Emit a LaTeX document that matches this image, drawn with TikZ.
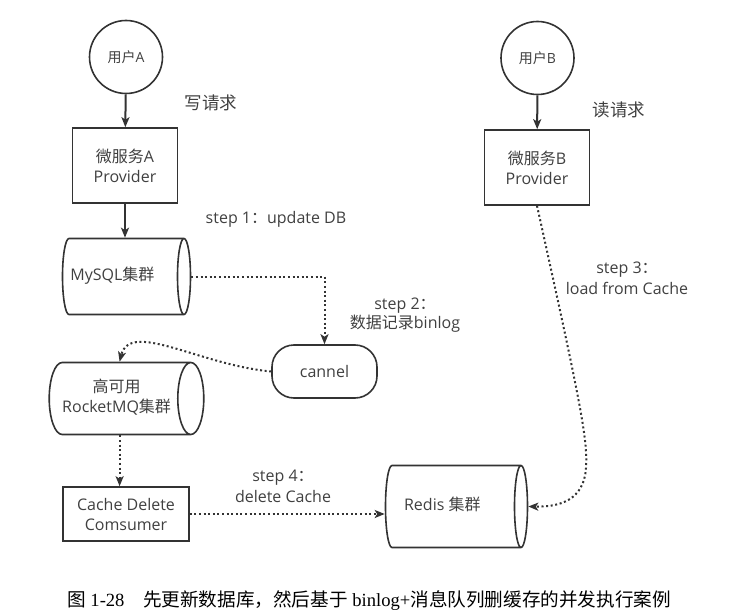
\documentclass[tikz,border=0pt]{standalone}
\usepackage{fontspec}
\setmainfont{Open Sans}
\newfontfamily\cjkfont{Noto Sans CJK SC}
\newfontfamily\capfont{Liberation Serif}
\newcommand{\zh}[1]{{\cjkfont #1}}
\newcommand{\dbtext}[2][21pt]{\begin{tabular}{@{}c@{}}#2\end{tabular}\hspace*{#1}}
\usetikzlibrary{shapes.geometric,arrows.meta}
\definecolor{linegray}{RGB}{51,51,51}
\definecolor{textgray}{RGB}{64,64,64}

\begin{document}
\begin{tikzpicture}[x=1pt,y=1pt,
	every node/.style={text=textgray, font=\fontsize{16}{20}\selectfont},
	user/.style={circle, draw=linegray, line width=1.6pt, minimum size=73pt, inner sep=0pt, font=\fontsize{14}{17}\selectfont},
	service/.style={rectangle, draw=linegray, line width=1.6pt, minimum width=105pt, minimum height=75pt, align=center},
	store/.style={cylinder, draw=linegray, line width=1.6pt, aspect=0.65, inner sep=0pt, anchor=shape center},
	steplabel/.style={align=center, font=\fontsize{16}{21}\selectfont},
	solidarrow/.style={draw=linegray, line width=2pt, -{Stealth[length=10pt,width=8pt,inset=2.5pt]}},
	dotarrow/.style={draw=linegray, line width=2pt, dash pattern=on 2pt off 2.6pt, -{Stealth[length=10pt,width=8pt,inset=2.5pt]}}]
	\useasboundingbox (0,0) rectangle (750,-615);
	\node[user] (userA) at (126,-57) {\zh{用户}A};
	\node[user] (userB) at (537.5,-58) {\zh{用户}B};
	\node[service] (provA) at (125,-165.5) {\zh{微服务}A\\Provider};
	\node[service] (provB) at (537,-167.5) {\zh{微服务}B\\Provider};
	\node[store, minimum height=128pt, minimum width=76pt] (mysql) at (126.5,-276.5) {\dbtext{MySQL\zh{集群}}};
	\node[draw=linegray, line width=1.6pt, rounded corners=22pt, minimum width=105pt, minimum height=53pt] (cannel) at (324.5,-371.5) {cannel};
	\node[store, minimum height=152pt, minimum width=72pt] (rocketmq) at (126.5,-398.5) {\dbtext[6pt]{\zh{高可用}\\RocketMQ\zh{集群}}};
	\node[service, minimum width=126pt, minimum height=54pt] (consumer) at (126,-514) {Cache Delete\\Comsumer};
	\node[store, minimum height=142pt, minimum width=82pt] (redis) at (456.5,-506.5) {\dbtext{Redis \zh{集群}}};
	\node[font=\fontsize{17.5}{20}\selectfont] (writeA) at (211,-103) {\zh{写请求}};
	\node[font=\fontsize{17.5}{20}\selectfont] (readB) at (619,-110) {\zh{读请求}};
	\node (step1) at (276,-219) {step 1\zh{：}update DB};
	\node[steplabel, font=\fontsize{16}{19}\selectfont] (step2) at (405,-315.5) {step 2\zh{：}\\\zh{数据记录}binlog};
	\node[steplabel] (step3) at (627,-278.5) {step 3\zh{：}\\load from Cache};
	\node[steplabel] (step4) at (283,-486) {step 4\zh{：}\\delete Cache};
	\draw[solidarrow] (userA) -- (provA);
	\draw[solidarrow] (userB) -- (provB);
	\draw[solidarrow] (provA) -- (provA |- mysql.north);
	\draw[dotarrow] (mysql.east) -| (cannel.north);
	\draw[dotarrow] (cannel.west) .. controls (200,-365) and (130,-320) .. (rocketmq.north);
	\draw[dotarrow] (rocketmq.south) -- (rocketmq.south |- consumer.north);
	\draw[dotarrow] (consumer.east) -- (consumer.east -| redis.west);
	\draw[dotarrow] (provB.south) .. controls (580,-400) and (588,-440) .. (586,-468) .. controls (584,-500) and (560,-507) .. (redis.east);
	\node[anchor=base west, inner sep=0pt, text=black, font=\capfont\fontsize{18.6}{21}\selectfont] (caption) at (67,-606) {\zh{图} 1-28\hspace{1em}\zh{先更新数据库，然后基于} binlog+\zh{消息队列删缓存的并发执行案例}};
\end{tikzpicture}
\end{document}
